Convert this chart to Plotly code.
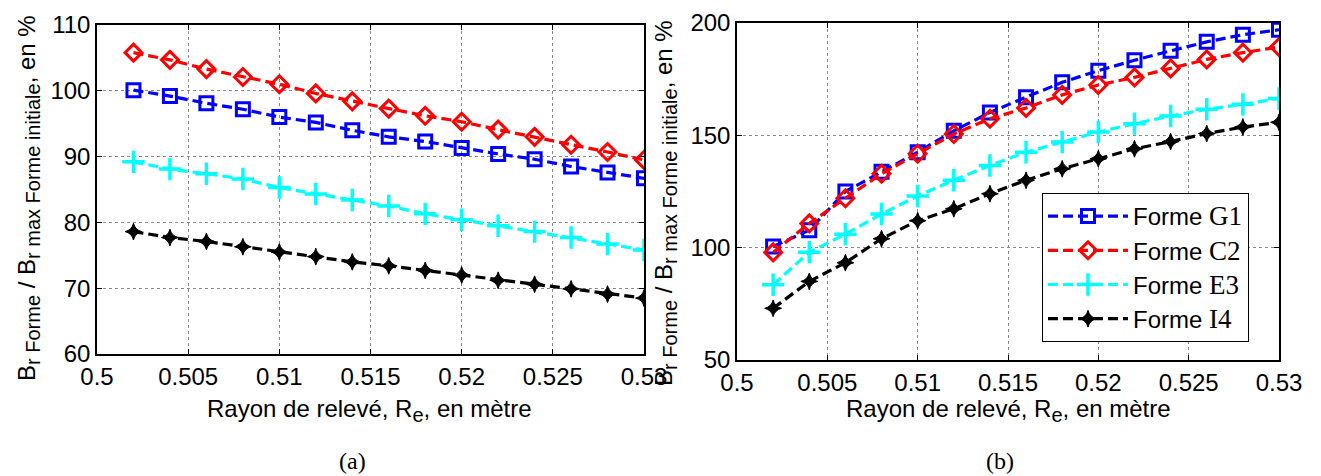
import plotly.graph_objects as go

# ---------------- data ----------------
rayon = [0.502, 0.504, 0.506, 0.508, 0.510, 0.512, 0.514, 0.516,
         0.518, 0.520, 0.522, 0.524, 0.526, 0.528, 0.530]

# panel (a)
a_G1 = [100.1, 99.2, 98.1, 97.2, 96.0, 95.2, 94.0, 93.0, 92.3, 91.3, 90.4, 89.6, 88.5, 87.6, 86.7]
a_C2 = [105.8, 104.7, 103.3, 102.1, 101.0, 99.6, 98.4, 97.3, 96.2, 95.3, 94.1, 93.0, 91.8, 90.7, 89.5]
a_E3 = [89.2, 88.1, 87.4, 86.6, 85.3, 84.3, 83.4, 82.5, 81.3, 80.4, 79.5, 78.6, 77.7, 76.7, 75.8]
a_I4 = [78.6, 77.7, 77.1, 76.3, 75.5, 74.8, 74.0, 73.4, 72.7, 72.0, 71.2, 70.6, 69.9, 69.1, 68.5]

# panel (b)
b_G1 = [100.5, 107.8, 125.0, 133.8, 142.5, 152.0, 160.2, 167.0, 173.6, 178.8, 183.4, 187.6, 191.6, 194.8, 197.0]
b_C2 = [97.9, 110.8, 122.0, 132.9, 141.8, 150.6, 157.4, 162.2, 168.0, 172.4, 175.8, 179.8, 183.8, 186.8, 189.3]
b_E3 = [83.5, 98.0, 106.0, 115.0, 123.0, 130.0, 136.6, 142.5, 147.0, 151.5, 155.2, 158.6, 161.6, 163.8, 166.4]
b_I4 = [73.0, 85.0, 93.3, 104.0, 112.0, 117.3, 124.0, 130.0, 135.1, 139.6, 144.0, 147.2, 150.8, 153.7, 155.8]

series_names = ["G1", "C2", "E3", "I4"]
x_ticks = [0.5, 0.505, 0.51, 0.515, 0.52, 0.525, 0.53]
x_tick_text = ["0.5", "0.505", "0.51", "0.515", "0.52", "0.525", "0.53"]
ya_ticks = [60, 70, 80, 90, 100, 110]
yb_ticks = [50, 100, 150, 200]

# ---------------- styles ----------------
W, H = 1321, 476
SANS = "Liberation Sans, Arial, sans-serif"
SERIF = "Liberation Serif, Times New Roman, serif"
DASH = "10px,5px"
LW = 3.2

styles = {
    "G1": dict(color="#0000FF", symbol="square-open", size=13, mlw=3),
    "C2": dict(color="#FF0000", symbol="diamond-open", size=13, mlw=3),
    "E3": dict(color="#00FFFF", symbol="cross-thin-open", size=16, mlw=3.5),
    "I4": dict(color="#000000", symbol="star-diamond", size=12, mlw=1),
}

fig = go.Figure()

def add_series(x, y, name, xa, ya, showlegend):
    s = styles[name]
    fig.add_trace(go.Scatter(
        x=x, y=y, mode="lines+markers",
        name="Forme <span style='font-family:Liberation Serif;font-size:27px'>%s</span>" % name,
        line=dict(color=s["color"], width=LW, dash=DASH),
        marker=dict(symbol=s["symbol"], size=s["size"], color=s["color"],
                    line=dict(color=s["color"], width=s["mlw"])),
        xaxis=xa, yaxis=ya, showlegend=showlegend,
    ))

for nm, ys in zip(series_names, [a_G1, a_C2, a_E3, a_I4]):
    add_series(rayon, ys, nm, "x", "y", False)
for nm, ys in zip(series_names, [b_G1, b_C2, b_E3, b_I4]):
    add_series(rayon, ys, nm, "x2", "y2", True)

def px_x(p):
    return p / W

def px_y(p):
    return 1 - p / H

common_axis = dict(
    showline=True, linecolor="black", linewidth=1.5, mirror="ticks",
    ticks="inside", ticklen=5, tickcolor="black", tickwidth=1,
    showgrid=True, gridcolor="#8a8a8a", gridwidth=1, griddash="dot",
    zeroline=False, automargin=False,
    tickfont=dict(family=SANS, size=24, color="black"),
)

fig.update_layout(
    width=W, height=H,
    margin=dict(l=0, r=0, t=0, b=0, pad=0),
    paper_bgcolor="white", plot_bgcolor="white",
    showlegend=True,
    xaxis=dict(domain=[px_x(97), px_x(644)], range=[0.5, 0.53], anchor="y",
               tickvals=x_ticks, ticktext=x_tick_text, **common_axis),
    yaxis=dict(domain=[px_y(354), px_y(25)], range=[60, 110], anchor="x",
               tickvals=ya_ticks, **common_axis),
    xaxis2=dict(domain=[px_x(737), px_x(1279)], range=[0.5, 0.53], anchor="y2",
                tickvals=x_ticks, ticktext=x_tick_text, **common_axis),
    yaxis2=dict(domain=[px_y(360), px_y(23)], range=[50, 200], anchor="x2",
                tickvals=yb_ticks, **common_axis),
    legend=dict(x=px_x(1042), y=px_y(193), xanchor="left", yanchor="top",
                bgcolor="white", bordercolor="black", borderwidth=1,
                font=dict(family=SANS, size=24, color="black"),
                tracegroupgap=0, itemwidth=80),
)

SUB = "<sub><span style='font-size:20px'>%s</span></sub>"
ytitle = "B" + SUB % "r Forme" + " / B" + SUB % "r max Forme initiale" + ", en %"
xtitle = "Rayon de relevé, R" + SUB % "e" + ", en mètre"

annots = [
    dict(x=px_x(28), y=px_y(198), text=ytitle, textangle=-90),
    dict(x=px_x(665), y=px_y(203), text=ytitle, textangle=-90),
    dict(x=px_x(370), y=px_y(410), text=xtitle),
    dict(x=px_x(1008), y=px_y(410), text=xtitle),
]
for a in annots:
    fig.add_annotation(xref="paper", yref="paper", showarrow=False,
                       xanchor="center", yanchor="middle",
                       font=dict(family=SANS, size=24, color="black"), **a)

for txt, xc in [("(a)", 352), ("(b)", 1000)]:
    fig.add_annotation(xref="paper", yref="paper", showarrow=False,
                       x=px_x(xc), y=px_y(461), text=txt,
                       xanchor="center", yanchor="middle",
                       font=dict(family=SERIF, size=24, color="black"))

fig.write_html("out.html", config={"displayModeBar": False},
               post_script="document.body.style.margin='0px';")
